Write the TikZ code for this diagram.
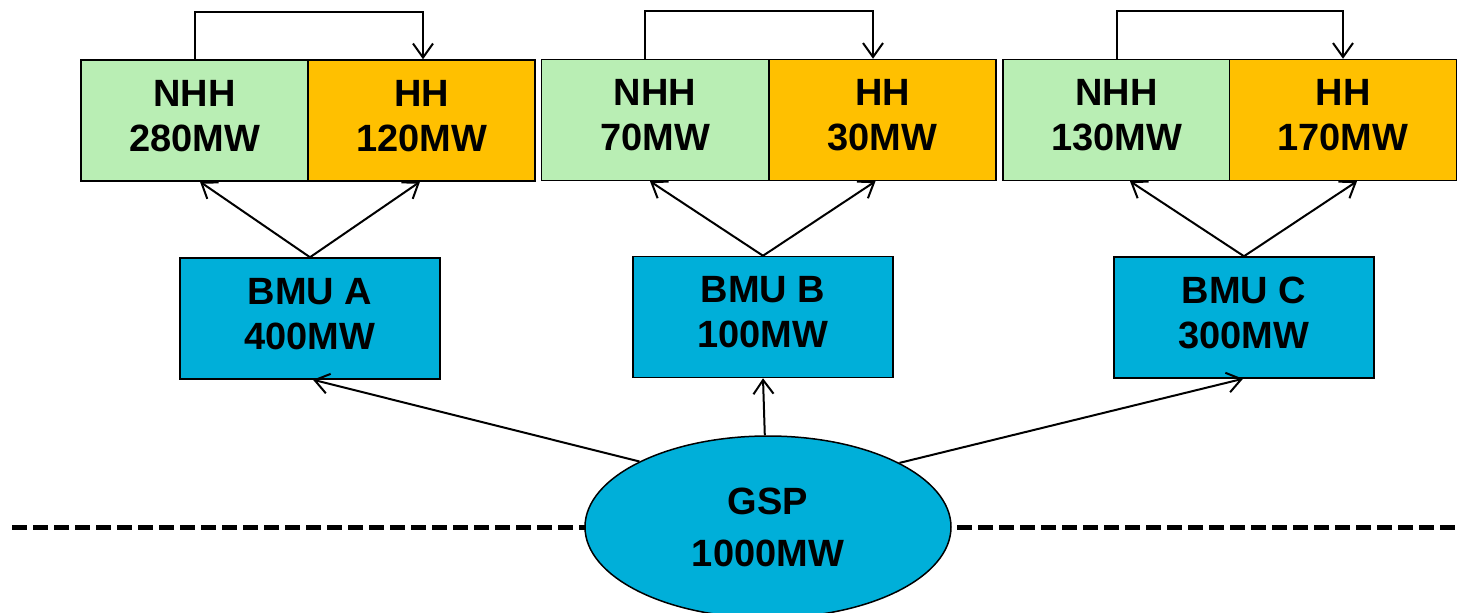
\documentclass[tikz,border=0pt]{standalone}
\usepackage{fontspec}
\setmainfont{Liberation Sans}
\usetikzlibrary{arrows.meta,shapes.geometric}
\definecolor{nhhgreen}{HTML}{B9EEB4}
\definecolor{hhorange}{HTML}{FFC000}
\definecolor{bmublue}{HTML}{00AFD9}
\tikzset{
  lbl/.style={font=\fontsize{38}{45}\selectfont\bfseries, align=center, text=black},
  cellbox/.style={draw=black, line width=1.5pt, rectangle, inner sep=0pt, minimum width=227pt, minimum height=121pt},
  nhhbox/.style={cellbox, fill=nhhgreen},
  hhbox/.style={cellbox, fill=hhorange},
  bmubox/.style={draw=black, line width=1.5pt, fill=bmublue, rectangle, inner sep=0pt, minimum width=260pt, minimum height=121pt},
  txt/.style={label={[lbl,yshift=4.5pt]center:{#1}}},
  gspnode/.style={font=\fontsize{38}{52}\selectfont\bfseries, align=center, draw=black, line width=1.5pt, fill=bmublue, ellipse, inner sep=0pt, minimum width=366pt, minimum height=182pt},
  conn/.style={line width=2pt, -{Straight Barb[length=14pt,width=20pt,line width=2pt]}},
  divider/.style={line width=5pt, dash pattern=on 15pt off 6pt}
}
\begin{document}
\begin{tikzpicture}[x=1pt,y=-1pt]
\useasboundingbox (0,0) rectangle (1462,613);
\clip (0,0) rectangle (1462,613);
% divider line
\coordinate (dl) at (12,527);
\coordinate (dr) at (1458,527);
\draw[divider] (dl) -- (dr);
% group A
\node[nhhbox, txt={NHH\\280MW}] (nhhA) at (194.5,120.5) {};
\node[hhbox, txt={HH\\120MW}]   (hhA)  at (421.5,120.5) {};
\node[bmubox, txt={BMU A\\400MW}] (bmuA) at (310,318.5) {};
% group B
\node[nhhbox, txt={NHH\\70MW}] (nhhB) at (655,120) {};
\node[hhbox, txt={HH\\30MW}]   (hhB)  at (882.5,120) {};
\node[bmubox, txt={BMU B\\100MW}] (bmuB) at (763,317) {};
% group C
\node[nhhbox, txt={NHH\\130MW}] (nhhC) at (1116.5,120) {};
\node[hhbox, txt={HH\\170MW}]   (hhC)  at (1343,120) {};
\node[bmubox, txt={BMU C\\300MW}] (bmuC) at (1244,317.5) {};
% GSP
\node[gspnode] (gsp) at (768,527) {GSP\\1000MW};
% loops
\draw[conn] (nhhA.north) -- ++(0,-47) -| ([xshift=1.5pt]hhA.north);
\draw[conn] ([xshift=-10pt]nhhB.north) -- ++(0,-48) -| ([xshift=-9.5pt]hhB.north);
\draw[conn] (nhhC.north) -- ++(0,-48) -| (hhC.north);
% BMU to NHH/HH
\draw[conn] (bmuA.north) -- ([xshift=5.5pt]nhhA.south);
\draw[conn] (bmuA.north) -- ([xshift=-1.5pt]hhA.south);
\draw[conn] (bmuB.north) -- ([xshift=-5pt]nhhB.south);
\draw[conn] (bmuB.north) -- ([xshift=-7pt]hhB.south);
\draw[conn] (bmuC.north) -- ([xshift=13.5pt]nhhC.south);
\draw[conn] (bmuC.north) -- ([xshift=14pt]hhC.south);
% GSP to BMUs
\draw[conn] (gsp.153.6) -- ([xshift=3pt]bmuA.south);
\draw[conn] (gsp.92) -- (bmuB.south);
\draw[conn] (gsp.26.7) -- ([xshift=-1pt]bmuC.south);
\end{tikzpicture}
\end{document}
